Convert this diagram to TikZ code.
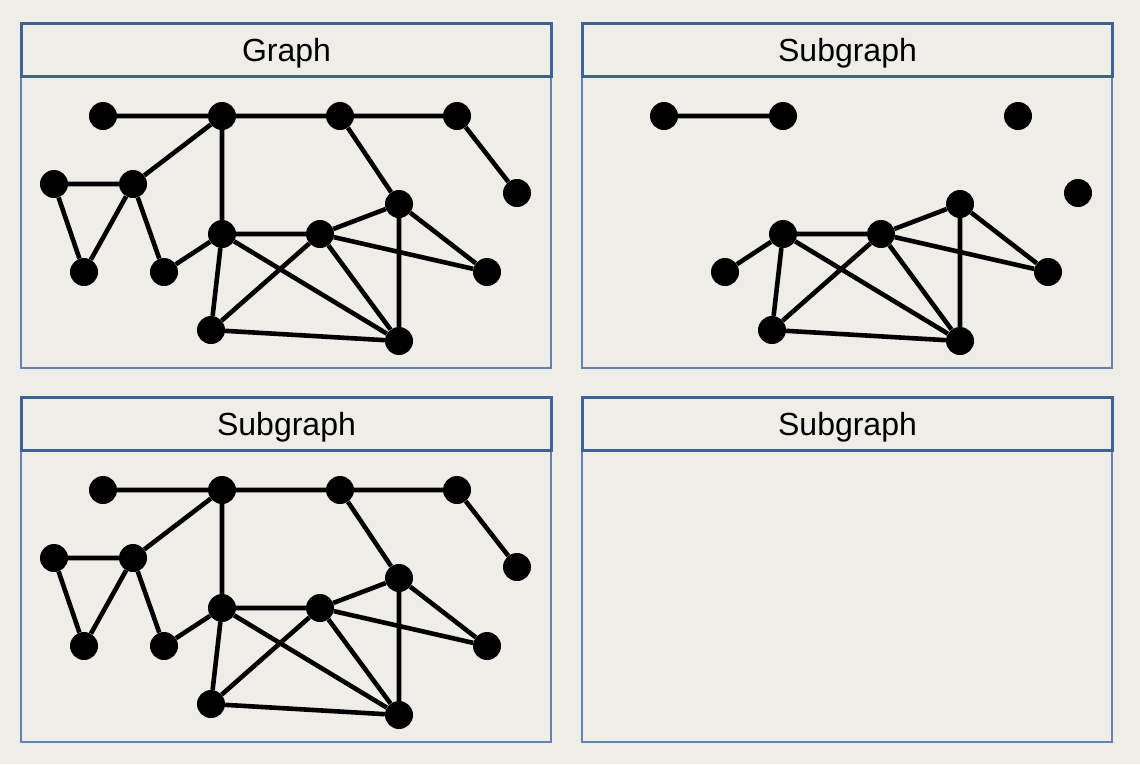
\documentclass[tikz,border=0pt]{standalone}
\usepackage{fontspec}
\setmainfont{Liberation Sans}
\definecolor{bgc}{HTML}{EEEDE7}
\definecolor{tbc}{HTML}{3F6196}
\definecolor{pbc}{HTML}{6682B0}
\newcommand\mkpanel[4]{%
  \node[bodybox, anchor=north west] (#1-body) at (#2,#3+53) {};
  \node[titlebox, anchor=north west] (#1-title) at (#2,#3) {#4};
}
\newcommand\fullgraph{%
  \node[vtx] (A) at (103,116) {};
  \node[vtx] (B) at (222,116) {};
  \node[vtx] (C) at (340,116) {};
  \node[vtx] (D) at (457,116) {};
  \node[vtx] (E) at (517,193) {};
  \node[vtx] (F) at (54,184) {};
  \node[vtx] (G) at (133,184) {};
  \node[vtx] (H) at (84,272) {};
  \node[vtx] (I) at (164,272) {};
  \node[vtx] (J) at (222,234) {};
  \node[vtx] (K) at (320,234) {};
  \node[vtx] (L) at (399,204) {};
  \node[vtx] (M) at (487,272) {};
  \node[vtx] (N) at (211,330) {};
  \node[vtx] (O) at (399,341) {};
  \draw[edge] (A)--(B) (B)--(C) (C)--(D) (D)--(E) (C)--(L) (B)--(G) (B)--(J)
    (F)--(G) (F)--(H) (G)--(H) (G)--(I) (I)--(J) (J)--(K) (K)--(L) (K)--(M)
    (L)--(M) (L)--(O) (J)--(O) (J)--(N) (K)--(N) (K)--(O) (N)--(O);
}
\begin{document}
\begin{tikzpicture}[x=1pt,y=-1pt,
  vtx/.style={circle,fill=black,minimum size=28pt,inner sep=0pt},
  edge/.style={line width=4.6pt},
  titlebox/.style={draw=tbc,line width=3pt,fill=bgc,minimum width=530pt,minimum height=53pt,inner sep=0pt,
    text depth=0pt,font=\fontsize{32}{38}\selectfont},
  bodybox/.style={draw=pbc,line width=2pt,minimum width=530pt,minimum height=292pt,inner sep=0pt}]
\fill[bgc] (0,0) rectangle (1140,764);
\useasboundingbox (0,0) rectangle (1140,764);

\mkpanel{p1}{20}{22}{Graph}
\mkpanel{p2}{581}{22}{Subgraph}
\mkpanel{p3}{20}{396}{Subgraph}
\mkpanel{p4}{581}{396}{Subgraph}

\begin{scope}[name prefix=g-]
  \fullgraph
\end{scope}

\begin{scope}[shift={(0,374)}, name prefix=s2-]
  \fullgraph
\end{scope}

\begin{scope}[shift={(561,0)}, name prefix=s1-]
  \node[vtx] (A) at (103,116) {};
  \node[vtx] (B) at (222,116) {};
  \node[vtx] (D) at (457,116) {};
  \node[vtx] (E) at (517,193) {};
  \node[vtx] (I) at (164,272) {};
  \node[vtx] (J) at (222,234) {};
  \node[vtx] (K) at (320,234) {};
  \node[vtx] (L) at (399,204) {};
  \node[vtx] (M) at (487,272) {};
  \node[vtx] (N) at (211,330) {};
  \node[vtx] (O) at (399,341) {};
  \draw[edge] (A)--(B) (I)--(J) (J)--(K) (K)--(L) (K)--(M)
    (L)--(M) (L)--(O) (J)--(O) (J)--(N) (K)--(N) (K)--(O) (N)--(O);
\end{scope}
\end{tikzpicture}
\end{document}
